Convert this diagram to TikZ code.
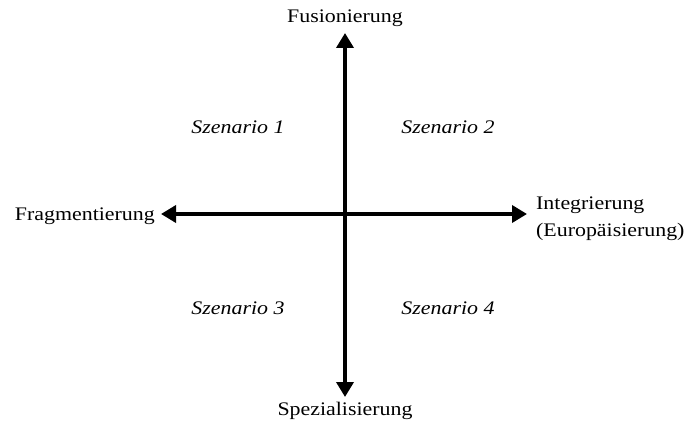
\documentclass[tikz,border=0pt]{standalone}
\usepackage{fontspec}
\setmainfont{Liberation Serif}[FakeStretch=1.14]
\usetikzlibrary{arrows.meta}
\begin{document}
\begin{tikzpicture}[x=1pt,y=-1pt,
  axis/.style={line width=3.6pt,-{Triangle[length=15pt,width=17pt]}},
  lbl/.style={font=\fontsize{19.2}{27}\selectfont,inner sep=0pt},
  scen/.style={font=\fontsize{19.2}{27}\selectfont\itshape,inner sep=0pt}]
\useasboundingbox (0,0) rectangle (700,430);
\coordinate (c) at (345,214);
\coordinate (top) at (345,33);
\coordinate (bot) at (345,397);
\coordinate (lft) at (161,214);
\coordinate (rgt) at (527,214);
\draw[axis] (c) -- (top);
\draw[axis] (c) -- (bot);
\draw[axis] (c) -- (lft);
\draw[axis] (c) -- (rgt);
\node[lbl] (fus) at (345,18) {Fusionierung};
\node[lbl] (spe) at (345,411) {Spezialisierung};
\node[lbl,anchor=east] (fra) at (155,216) {Fragmentierung};
\node[lbl,anchor=west,align=left] (int) at (536,219) {Integrierung\\(Europäisierung)};
\node[scen] (s1) at (238,127) {Szenario 1};
\node[scen] (s2) at (448,127) {Szenario 2};
\node[scen] (s3) at (238,308) {Szenario 3};
\node[scen] (s4) at (448,308) {Szenario 4};
\end{tikzpicture}
\end{document}
